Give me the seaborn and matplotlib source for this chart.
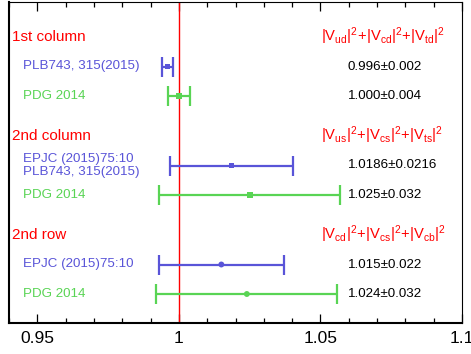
import matplotlib
matplotlib.use("Agg")
import matplotlib.pyplot as plt
import seaborn as sns
import pandas as pd
import numpy as np
from matplotlib.ticker import MultipleLocator

sns.set_theme(style="white")
plt.rcParams["font.family"] = ["Liberation Sans", "DejaVu Sans"]
plt.rcParams["mathtext.fontset"] = "custom"
plt.rcParams["mathtext.rm"] = "Liberation Sans"
plt.rcParams["mathtext.it"] = "Liberation Sans"
plt.rcParams["mathtext.bf"] = "Liberation Sans:bold"

# ---- data ----
group_titles = ["1st column", "2nd column", "2nd row"]
group_formulas = [
    r"$|\mathrm{V}_{ud}|^{2}\!+\!|\mathrm{V}_{cd}|^{2}\!+\!|\mathrm{V}_{td}|^{2}$",
    r"$|\mathrm{V}_{us}|^{2}\!+\!|\mathrm{V}_{cs}|^{2}\!+\!|\mathrm{V}_{ts}|^{2}$",
    r"$|\mathrm{V}_{cd}|^{2}\!+\!|\mathrm{V}_{cs}|^{2}\!+\!|\mathrm{V}_{cb}|^{2}$",
]
entry_group = [0, 0, 1, 1, 2, 2]
entry_labels = ["PLB743, 315(2015)", "PDG 2014",
                "EPJC (2015)75:10\nPLB743, 315(2015)", "PDG 2014",
                "EPJC (2015)75:10", "PDG 2014"]
entry_source = ["this", "PDG", "this", "PDG", "this", "PDG"]
entry_values = [0.996, 1.000, 1.0186, 1.025, 1.015, 1.024]
entry_errors = [0.002, 0.004, 0.0216, 0.032, 0.022, 0.032]
entry_texts = ["0.996±0.002", "1.000±0.004", "1.0186±0.0216", "1.025±0.032",
               "1.015±0.022", "1.024±0.032"]
entry_markers = ["s", "s", "s", "s", "o", "o"]
xticks_major = [0.95, 1.0, 1.05, 1.1]
xtick_labels = ["0.95", "1", "1.05", "1.1"]

# ---- layout (pixel-like vertical units) ----
BLUE = "#5954d8"
GREEN = "#59d454"
RED = "#ff0000"
palette = {"this": BLUE, "PDG": GREEN}

header_y = []
entry_y = []
y = 37.0
for g in range(len(group_titles)):
    header_y.append(y)
    n = entry_group.count(g)
    for k in range(n):
        y += 29.5
        entry_y.append(y)
    y += 40.0

df = pd.DataFrame({"value": entry_values, "err": entry_errors, "y": entry_y,
                   "source": entry_source, "marker": entry_markers})

fig = plt.figure(figsize=(4.71, 3.54), dpi=100)
ax = fig.add_axes([9 / 471, 1 - 323 / 354, (462 - 9) / 471, (323 - 2) / 354])

ax.axvline(1.0, color=RED, lw=1.0, zorder=1)

for i, row in df.iterrows():
    c = palette[row["source"]]
    ax.errorbar(row["value"], row["y"], xerr=row["err"], fmt="none", ecolor=c,
                elinewidth=1.6, capsize=7, capthick=1.6, zorder=2)

sns.scatterplot(data=df, x="value", y="y", hue="source", palette=palette,
                style="marker", markers={"s": "s", "o": "o"}, s=18,
                edgecolor="none", legend=False, ax=ax, zorder=3)

ax.set_xlim(0.94, 1.1)
ax.set_ylim(323, 2)

for g, t in enumerate(group_titles):
    ax.text(0.9411, header_y[g], t, color=RED, fontsize=11, va="center", ha="left")
    ax.text(1.0502, header_y[g] - 1, group_formulas[g], color=RED, fontsize=10.6,
            va="center", ha="left")

for i in range(len(entry_labels)):
    c = palette[entry_source[i]]
    ax.text(0.9450, entry_y[i], entry_labels[i], color=c, fontsize=9.6,
            va="center", ha="left", linespacing=1.2)
    ax.text(1.0597, entry_y[i], entry_texts[i], color="black", fontsize=9.6,
            va="center", ha="left")

ax.set_xticks(xticks_major)
ax.set_xticklabels(xtick_labels)
ax.xaxis.set_minor_locator(MultipleLocator(0.01))
ax.set_yticks([])
ax.tick_params(axis="x", which="major", direction="in", length=6.5, width=0.9,
               top=True, bottom=True, labelsize=12.5, pad=6, colors="black")
ax.tick_params(axis="x", which="minor", direction="in", length=3.3, width=0.9,
               top=True, bottom=True, colors="black")
ax.set_xlabel("")
ax.set_ylabel("")

for side, lw in [("left", 1.5), ("bottom", 1.5), ("top", 0.8), ("right", 0.8)]:
    ax.spines[side].set_visible(True)
    ax.spines[side].set_color("black")
    ax.spines[side].set_linewidth(lw)

fig.savefig("out.png", dpi=100)
